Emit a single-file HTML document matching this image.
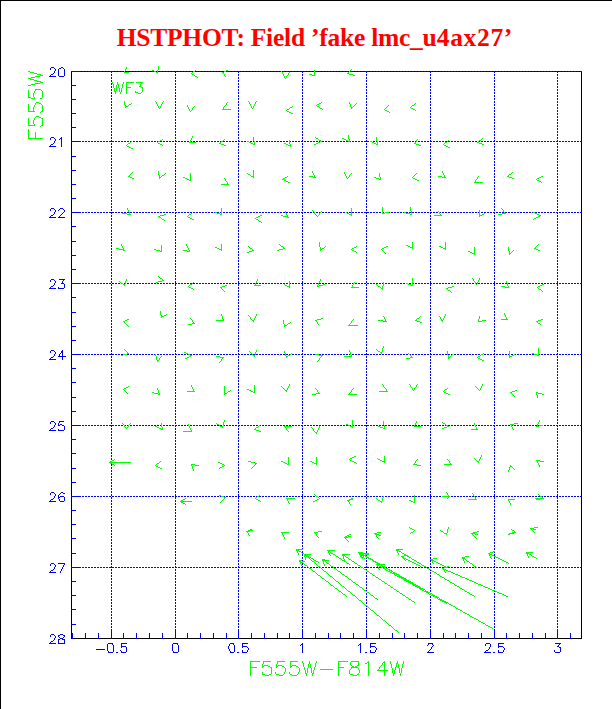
<!DOCTYPE html>
<html lang="en"><head><meta charset="utf-8"><title>HSTPHOT: Field 'fake lmc_u4ax27'</title>
<style>html,body{margin:0;padding:0;background:#fff}body{width:612px;height:709px;overflow:hidden;position:relative;font-family:"Liberation Sans",sans-serif}#fig{position:absolute;left:0;top:0;width:612px;height:709px;display:block}.ttl{font-family:"Liberation Serif",serif;font-weight:bold;font-size:25.5px;fill:#f00}.b{stroke:#00f;stroke-width:1;fill:none}.k{stroke:#000;stroke-width:1;fill:none}.g{stroke:#0f0;stroke-width:1;fill:none}.lb{stroke:#00f;stroke-width:1;fill:none;stroke-linecap:square}.lg{stroke:#0f0;stroke-width:1;fill:none;stroke-linecap:square}</style></head><body>
<svg id="fig" width="612" height="709" viewBox="0 0 612 709">
<rect x="0" y="0" width="612" height="709" fill="#fff"/>
<g shape-rendering="crispEdges"><rect x="0" y="0" width="612" height="1" fill="#000"/><rect x="0" y="0" width="1" height="709" fill="#000"/></g>
<text class="ttl" x="116.7" y="45.5" letter-spacing="-0.24">HSTPHOT: Field ’fake lmc_u<tspan x="436.8" letter-spacing="0.65">4ax27’</tspan></text>
<g shape-rendering="crispEdges">
<path class="k" d="M71.5 71.5H581.5V638.5H71.5Z"/>
<path class="b" stroke-dasharray="2 1" d="M73 71.5H582"/>
<path class="b" stroke-dasharray="2 1" d="M73 141.5H582"/>
<path class="b" stroke-dasharray="2 1" d="M73 212.5H582"/>
<path class="b" stroke-dasharray="2 1" d="M73 283.5H582"/>
<path class="b" stroke-dasharray="2 1" d="M73 354.5H582"/>
<path class="b" stroke-dasharray="2 1" d="M73 425.5H582"/>
<path class="b" stroke-dasharray="2 1" d="M73 496.5H582"/>
<path class="b" stroke-dasharray="2 1" d="M73 567.5H582"/>
<path class="b" stroke-dasharray="2 1" d="M111.5 71V638"/>
<path class="b" stroke-dasharray="2 1" d="M175.5 71V638"/>
<path class="b" stroke-dasharray="2 1" d="M238.5 71V638"/>
<path class="b" stroke-dasharray="2 1" d="M302.5 71V638"/>
<path class="b" stroke-dasharray="2 1" d="M366.5 71V638"/>
<path class="b" stroke-dasharray="2 1" d="M430.5 71V638"/>
<path class="b" stroke-dasharray="2 1" d="M494.5 71V638"/>
<path class="b" stroke-dasharray="2 1" d="M557.5 71V638"/>
<path class="b" d="M71 71.5h10M71 85.5h5M71 99.5h5M71 113.5h5M71 127.5h5M71 141.5h10M71 156.5h5M71 170.5h5M71 184.5h5M71 198.5h5M71 212.5h10M71 226.5h5M71 241.5h5M71 255.5h5M71 269.5h5M71 283.5h10M71 297.5h5M71 312.5h5M71 326.5h5M71 340.5h5M71 354.5h10M71 368.5h5M71 382.5h5M71 397.5h5M71 411.5h5M71 425.5h10M71 439.5h5M71 453.5h5M71 468.5h5M71 482.5h5M71 496.5h10M71 510.5h5M71 524.5h5M71 538.5h5M71 553.5h5M71 567.5h10M71 581.5h5M71 595.5h5M71 609.5h5M71 624.5h5M72.5 639v-6M85.5 639v-6M98.5 639v-6M111.5 639v-10M123.5 639v-6M136.5 639v-6M149.5 639v-6M162.5 639v-6M175.5 639v-10M187.5 639v-6M200.5 639v-6M213.5 639v-6M226.5 639v-6M238.5 639v-10M251.5 639v-6M264.5 639v-6M277.5 639v-6M289.5 639v-6M302.5 639v-10M315.5 639v-6M328.5 639v-6M340.5 639v-6M353.5 639v-6M366.5 639v-10M379.5 639v-6M392.5 639v-6M404.5 639v-6M417.5 639v-6M430.5 639v-10M443.5 639v-6M455.5 639v-6M468.5 639v-6M481.5 639v-6M494.5 639v-10M506.5 639v-6M519.5 639v-6M532.5 639v-6M545.5 639v-6M557.5 639v-10M570.5 639v-6"/>
</g>
<g shape-rendering="crispEdges">
<path class="b" aria-label="axis tick labels 20 21 22 23 24 25 26 27 28 / -0.5 0 0.5 1 1.5 2 2.5 3" d="M51 67.5h3M61 67.5h2M50 68.5h1M54 68.5h1M59 68.5h2M63 68.5h1M50 69.5h1M55 69.5h1M58 69.5h1M64 69.5h1M55 70.5h1M58 70.5h1M64 70.5h1M54 71.5h1M58 71.5h1M64 71.5h1M54 72.5h1M58 72.5h1M64 72.5h1M53 73.5h1M58 73.5h1M64 73.5h1M51 74.5h2M58 74.5h1M64 74.5h1M50 75.5h1M58 75.5h1M64 75.5h1M49 76.5h7M59 76.5h5M51 137.5h3M61 137.5h1M50 138.5h1M54 138.5h1M60 138.5h2M50 139.5h1M55 139.5h1M59 139.5h1M61 139.5h1M55 140.5h1M61 140.5h1M54 141.5h1M61 141.5h1M54 142.5h1M61 142.5h1M53 143.5h1M61 143.5h1M51 144.5h2M61 144.5h1M50 145.5h1M61 145.5h1M49 146.5h7M61 146.5h1M51 208.5h3M60 208.5h3M50 209.5h1M54 209.5h1M59 209.5h1M63 209.5h1M50 210.5h1M55 210.5h1M58 210.5h1M64 210.5h1M55 211.5h1M64 211.5h1M54 212.5h1M63 212.5h1M54 213.5h1M62 213.5h1M53 214.5h1M61 214.5h1M51 215.5h2M60 215.5h1M50 216.5h1M59 216.5h1M49 217.5h7M58 217.5h7M51 279.5h3M59 279.5h6M50 280.5h1M54 280.5h1M63 280.5h1M50 281.5h1M55 281.5h1M62 281.5h1M55 282.5h1M62 282.5h1M54 283.5h1M61 283.5h3M54 284.5h1M64 284.5h1M53 285.5h1M64 285.5h1M51 286.5h2M64 286.5h1M50 287.5h1M58 287.5h1M64 287.5h1M49 288.5h7M58 288.5h6M51 350.5h3M62 350.5h1M50 351.5h1M54 351.5h1M61 351.5h2M50 352.5h1M55 352.5h1M61 352.5h2M55 353.5h1M60 353.5h1M62 353.5h1M54 354.5h1M59 354.5h1M62 354.5h1M54 355.5h1M59 355.5h1M62 355.5h1M53 356.5h1M58 356.5h8M51 357.5h2M62 357.5h1M50 358.5h1M62 358.5h1M49 359.5h7M62 359.5h1M51 421.5h3M59 421.5h5M50 422.5h1M54 422.5h1M59 422.5h1M50 423.5h1M55 423.5h1M58 423.5h1M55 424.5h1M58 424.5h1M60 424.5h2M54 425.5h1M58 425.5h2M62 425.5h2M54 426.5h1M64 426.5h1M53 427.5h1M64 427.5h1M51 428.5h2M64 428.5h1M50 429.5h1M58 429.5h1M64 429.5h1M49 430.5h7M58 430.5h6M51 492.5h3M61 492.5h2M50 493.5h1M54 493.5h1M60 493.5h1M63 493.5h2M50 494.5h1M55 494.5h1M59 494.5h1M55 495.5h1M58 495.5h1M54 496.5h1M58 496.5h1M60 496.5h4M54 497.5h1M58 497.5h2M64 497.5h1M53 498.5h1M58 498.5h1M64 498.5h1M51 499.5h2M59 499.5h1M64 499.5h1M50 500.5h1M59 500.5h1M64 500.5h1M49 501.5h7M60 501.5h4M51 563.5h3M58 563.5h7M50 564.5h1M54 564.5h1M64 564.5h1M50 565.5h1M55 565.5h1M63 565.5h1M55 566.5h1M63 566.5h1M54 567.5h1M62 567.5h1M54 568.5h1M62 568.5h1M53 569.5h1M61 569.5h1M51 570.5h2M61 570.5h1M50 571.5h1M60 571.5h1M49 572.5h7M60 572.5h1M51 634.5h3M60 634.5h3M50 635.5h1M54 635.5h1M58 635.5h2M63 635.5h2M50 636.5h1M55 636.5h1M58 636.5h1M64 636.5h1M55 637.5h1M59 637.5h1M63 637.5h1M54 638.5h1M60 638.5h3M54 639.5h1M58 639.5h2M62 639.5h3M53 640.5h1M58 640.5h1M64 640.5h1M51 641.5h2M58 641.5h1M64 641.5h1M50 642.5h1M58 642.5h1M64 642.5h1M49 643.5h7M58 643.5h7M108 643.5h5M121 643.5h6M173 643.5h5M230 643.5h4M242 643.5h6M302 643.5h1M360 643.5h1M370 643.5h6M428 643.5h5M486 643.5h4M498 643.5h6M555 643.5h6M107 644.5h1M112 644.5h1M121 644.5h1M172 644.5h1M177 644.5h1M229 644.5h1M233 644.5h1M242 644.5h1M301 644.5h2M359 644.5h2M370 644.5h1M428 644.5h1M432 644.5h1M485 644.5h1M490 644.5h1M498 644.5h1M559 644.5h1M107 645.5h1M113 645.5h1M121 645.5h1M172 645.5h1M178 645.5h1M229 645.5h1M234 645.5h1M242 645.5h1M300 645.5h1M302 645.5h1M358 645.5h1M360 645.5h1M370 645.5h1M427 645.5h1M433 645.5h1M485 645.5h1M490 645.5h1M498 645.5h1M558 645.5h1M107 646.5h1M113 646.5h1M121 646.5h5M172 646.5h1M178 646.5h1M228 646.5h1M234 646.5h1M242 646.5h5M302 646.5h1M360 646.5h1M370 646.5h5M432 646.5h1M490 646.5h1M498 646.5h5M557 646.5h2M107 647.5h1M113 647.5h1M121 647.5h1M126 647.5h1M172 647.5h1M178 647.5h1M228 647.5h1M234 647.5h1M242 647.5h1M247 647.5h1M302 647.5h1M360 647.5h1M370 647.5h1M375 647.5h1M431 647.5h1M489 647.5h1M498 647.5h1M503 647.5h1M559 647.5h2M107 648.5h1M113 648.5h1M126 648.5h1M172 648.5h1M178 648.5h1M228 648.5h1M234 648.5h1M248 648.5h1M302 648.5h1M360 648.5h1M376 648.5h1M431 648.5h1M489 648.5h1M504 648.5h1M560 648.5h1M96 649.5h9M107 649.5h1M113 649.5h1M126 649.5h1M172 649.5h1M178 649.5h1M229 649.5h1M234 649.5h1M248 649.5h1M302 649.5h1M360 649.5h1M376 649.5h1M430 649.5h1M488 649.5h1M504 649.5h1M560 649.5h1M107 650.5h1M113 650.5h1M120 650.5h1M126 650.5h1M172 650.5h1M178 650.5h1M229 650.5h1M234 650.5h1M242 650.5h1M247 650.5h1M302 650.5h1M360 650.5h1M370 650.5h1M375 650.5h1M429 650.5h1M486 650.5h2M498 650.5h1M503 650.5h1M554 650.5h1M560 650.5h1M108 651.5h1M113 651.5h1M121 651.5h1M126 651.5h1M173 651.5h1M178 651.5h1M230 651.5h1M234 651.5h1M242 651.5h1M247 651.5h1M302 651.5h1M360 651.5h1M370 651.5h1M375 651.5h1M428 651.5h1M485 651.5h1M498 651.5h1M503 651.5h1M554 651.5h1M560 651.5h1M108 652.5h5M116 652.5h2M121 652.5h5M173 652.5h5M230 652.5h4M237 652.5h2M242 652.5h5M302 652.5h1M360 652.5h1M365 652.5h2M370 652.5h5M427 652.5h7M484 652.5h7M493 652.5h2M498 652.5h5M555 652.5h5"/>
<path class="g" aria-label="F555W-F814W" d="M250 661.5h10M263 661.5h8M277 661.5h8M290 661.5h8M302 661.5h1M309 661.5h1M316 661.5h1M338 661.5h10M351 661.5h8M368 661.5h1M384 661.5h1M390 661.5h1M397 661.5h1M403 661.5h1M250 662.5h1M263 662.5h1M277 662.5h1M290 662.5h1M302 662.5h1M309 662.5h1M316 662.5h1M338 662.5h1M350 662.5h1M358 662.5h1M367 662.5h2M383 662.5h2M390 662.5h1M397 662.5h1M403 662.5h1M250 663.5h1M263 663.5h1M277 663.5h1M290 663.5h1M303 663.5h1M309 663.5h1M315 663.5h1M338 663.5h1M350 663.5h1M358 663.5h1M365 663.5h2M368 663.5h1M382 663.5h1M384 663.5h1M390 663.5h1M396 663.5h2M403 663.5h1M250 664.5h1M262 664.5h1M276 664.5h1M290 664.5h1M303 664.5h1M308 664.5h1M310 664.5h1M315 664.5h1M338 664.5h1M350 664.5h1M358 664.5h1M368 664.5h1M382 664.5h1M384 664.5h1M391 664.5h1M396 664.5h1M398 664.5h1M402 664.5h1M250 665.5h1M262 665.5h1M264 665.5h4M276 665.5h1M278 665.5h4M290 665.5h1M292 665.5h4M303 665.5h1M308 665.5h1M310 665.5h1M315 665.5h1M338 665.5h1M351 665.5h1M357 665.5h2M368 665.5h1M381 665.5h1M384 665.5h1M391 665.5h1M396 665.5h1M398 665.5h1M402 665.5h1M250 666.5h1M262 666.5h2M268 666.5h2M276 666.5h2M282 666.5h2M290 666.5h2M296 666.5h2M303 666.5h1M308 666.5h1M310 666.5h1M315 666.5h1M338 666.5h1M352 666.5h2M355 666.5h2M368 666.5h1M380 666.5h1M384 666.5h1M391 666.5h1M396 666.5h1M398 666.5h1M402 666.5h1M250 667.5h7M262 667.5h1M270 667.5h2M276 667.5h1M284 667.5h1M290 667.5h1M298 667.5h1M304 667.5h1M308 667.5h1M310 667.5h1M314 667.5h1M338 667.5h6M351 667.5h7M368 667.5h1M379 667.5h1M384 667.5h1M391 667.5h1M395 667.5h1M398 667.5h1M402 667.5h1M250 668.5h1M271 668.5h1M285 668.5h1M299 668.5h1M304 668.5h1M307 668.5h1M311 668.5h1M314 668.5h1M338 668.5h1M351 668.5h1M358 668.5h1M368 668.5h1M379 668.5h1M384 668.5h1M392 668.5h1M395 668.5h1M399 668.5h1M401 668.5h1M250 669.5h1M271 669.5h1M285 669.5h1M299 669.5h1M304 669.5h1M307 669.5h1M311 669.5h1M314 669.5h1M320 669.5h13M338 669.5h1M350 669.5h1M358 669.5h1M368 669.5h1M378 669.5h1M384 669.5h1M392 669.5h1M395 669.5h1M399 669.5h1M401 669.5h1M250 670.5h1M271 670.5h1M285 670.5h1M299 670.5h1M305 670.5h1M307 670.5h1M311 670.5h1M313 670.5h1M338 670.5h1M349 670.5h1M359 670.5h1M368 670.5h1M377 670.5h11M392 670.5h1M394 670.5h1M399 670.5h1M401 670.5h1M250 671.5h1M271 671.5h1M285 671.5h1M299 671.5h1M305 671.5h1M307 671.5h1M311 671.5h1M313 671.5h1M338 671.5h1M349 671.5h1M359 671.5h1M368 671.5h1M384 671.5h1M392 671.5h1M394 671.5h1M399 671.5h1M401 671.5h1M250 672.5h1M262 672.5h1M271 672.5h1M275 672.5h1M284 672.5h1M289 672.5h1M298 672.5h1M305 672.5h1M307 672.5h1M311 672.5h1M313 672.5h1M338 672.5h1M349 672.5h1M359 672.5h1M368 672.5h1M384 672.5h1M392 672.5h1M394 672.5h1M399 672.5h1M401 672.5h1M250 673.5h1M262 673.5h1M271 673.5h1M275 673.5h1M284 673.5h1M289 673.5h1M298 673.5h1M305 673.5h2M312 673.5h2M338 673.5h1M349 673.5h1M358 673.5h1M368 673.5h1M384 673.5h1M393 673.5h2M400 673.5h1M250 674.5h1M262 674.5h3M269 674.5h2M276 674.5h3M283 674.5h1M290 674.5h2M297 674.5h1M306 674.5h1M312 674.5h1M338 674.5h1M350 674.5h3M357 674.5h2M368 674.5h1M384 674.5h1M393 674.5h1M400 674.5h1M250 675.5h1M265 675.5h4M279 675.5h4M292 675.5h5M306 675.5h1M312 675.5h1M338 675.5h1M353 675.5h4M368 675.5h1M384 675.5h1M393 675.5h1M400 675.5h1"/>
<path class="g" aria-label="F555W" d="M28 71.5h2M30 72.5h4M34 73.5h3M37 74.5h4M40 75.5h3M35 76.5h5M31 77.5h4M28 78.5h3M30 79.5h4M34 80.5h3M37 81.5h4M40 82.5h3M35 83.5h5M31 84.5h4M28 85.5h3M35 89.5h6M28 90.5h1M35 90.5h1M41 90.5h1M28 91.5h1M34 91.5h1M42 91.5h1M28 92.5h1M34 92.5h1M42 92.5h1M28 93.5h1M33 93.5h1M42 93.5h1M28 94.5h1M33 94.5h1M42 94.5h1M28 95.5h1M33 95.5h1M42 95.5h1M28 96.5h1M33 96.5h1M42 96.5h1M28 97.5h3M34 97.5h1M42 97.5h1M31 98.5h4M40 98.5h2M36 102.5h3M35 103.5h1M39 103.5h2M28 104.5h1M35 104.5h1M41 104.5h1M28 105.5h1M34 105.5h1M42 105.5h1M28 106.5h1M34 106.5h1M42 106.5h1M28 107.5h1M33 107.5h1M42 107.5h1M28 108.5h1M33 108.5h1M42 108.5h1M28 109.5h1M33 109.5h1M42 109.5h1M28 110.5h1M33 110.5h1M42 110.5h1M28 111.5h7M41 111.5h2M40 112.5h1M36 116.5h3M35 117.5h1M39 117.5h2M28 118.5h1M34 118.5h1M41 118.5h2M28 119.5h1M34 119.5h1M42 119.5h1M28 120.5h1M33 120.5h1M42 120.5h1M28 121.5h1M33 121.5h1M42 121.5h1M28 122.5h1M33 122.5h1M42 122.5h1M28 123.5h1M33 123.5h1M42 123.5h1M28 124.5h1M34 124.5h1M42 124.5h1M28 125.5h7M41 125.5h2M40 126.5h1M28 129.5h1M28 130.5h1M28 131.5h1M28 132.5h1M35 132.5h1M28 133.5h1M35 133.5h1M28 134.5h1M35 134.5h1M28 135.5h1M35 135.5h1M28 136.5h1M35 136.5h1M28 137.5h1M35 137.5h1M28 138.5h15"/>
<path class="g" aria-label="WF3" d="M112 82.5h1M117 82.5h1M123 82.5h1M126 82.5h8M136 82.5h7M112 83.5h1M117 83.5h1M123 83.5h1M126 83.5h1M141 83.5h1M113 84.5h1M117 84.5h2M122 84.5h1M126 84.5h1M140 84.5h1M113 85.5h1M116 85.5h1M118 85.5h1M122 85.5h1M126 85.5h1M140 85.5h1M113 86.5h1M116 86.5h1M118 86.5h1M122 86.5h1M126 86.5h1M139 86.5h2M113 87.5h1M116 87.5h1M118 87.5h1M122 87.5h1M126 87.5h5M141 87.5h2M114 88.5h1M116 88.5h1M119 88.5h1M121 88.5h1M126 88.5h1M142 88.5h1M114 89.5h1M116 89.5h1M119 89.5h1M121 89.5h1M126 89.5h1M142 89.5h1M114 90.5h1M116 90.5h1M119 90.5h1M121 90.5h1M126 90.5h1M142 90.5h1M114 91.5h2M119 91.5h1M121 91.5h1M126 91.5h1M135 91.5h1M142 91.5h1M115 92.5h1M120 92.5h1M126 92.5h1M135 92.5h3M141 92.5h1M115 93.5h1M120 93.5h1M126 93.5h1M138 93.5h3"/>
<path class="g" aria-label="completeness vectors" d="M158 66.5h1M126 67.5h1M158 67.5h1M126 68.5h1M158 68.5h1M125 69.5h1M158 69.5h1M351 69.5h1M125 70.5h1M152 70.5h2M157 70.5h1M195 70.5h1M226 70.5h2M314 70.5h1M350 70.5h1M124 71.5h1M154 71.5h2M157 71.5h1M193 71.5h2M224 71.5h2M281 71.5h1M314 71.5h1M349 71.5h1M124 72.5h5M156 72.5h2M192 72.5h1M222 72.5h2M282 72.5h1M289 72.5h1M314 72.5h1M348 72.5h1M191 73.5h1M223 73.5h1M282 73.5h1M288 73.5h1M314 73.5h1M347 73.5h2M192 74.5h2M224 74.5h1M283 74.5h1M288 74.5h1M309 74.5h3M314 74.5h1M349 74.5h4M194 75.5h1M224 75.5h1M283 75.5h1M287 75.5h1M312 75.5h3M353 75.5h2M195 76.5h2M225 76.5h1M284 76.5h1M286 76.5h1M197 77.5h1M284 77.5h1M286 77.5h1M285 78.5h1M124 101.5h1M155 101.5h1M163 101.5h1M248 101.5h1M256 101.5h1M124 102.5h1M156 102.5h1M162 102.5h1M227 102.5h1M249 102.5h1M255 102.5h1M321 102.5h1M349 102.5h1M124 103.5h1M131 103.5h1M156 103.5h1M162 103.5h1M226 103.5h1M249 103.5h1M255 103.5h1M319 103.5h2M349 103.5h1M356 103.5h1M415 103.5h1M124 104.5h1M129 104.5h2M157 104.5h1M161 104.5h1M226 104.5h1M250 104.5h1M254 104.5h1M317 104.5h2M350 104.5h1M355 104.5h1M414 104.5h1M125 105.5h1M128 105.5h1M157 105.5h1M161 105.5h1M187 105.5h1M225 105.5h1M250 105.5h1M254 105.5h1M316 105.5h1M350 105.5h1M354 105.5h1M388 105.5h1M412 105.5h2M125 106.5h3M158 106.5h1M160 106.5h1M187 106.5h1M194 106.5h1M224 106.5h1M251 106.5h1M253 106.5h1M292 106.5h1M317 106.5h2M350 106.5h1M353 106.5h1M387 106.5h1M411 106.5h1M125 107.5h1M158 107.5h1M160 107.5h1M188 107.5h1M193 107.5h1M223 107.5h1M251 107.5h1M253 107.5h1M290 107.5h2M319 107.5h1M351 107.5h2M386 107.5h1M410 107.5h1M159 108.5h1M188 108.5h1M192 108.5h1M223 108.5h1M252 108.5h1M289 108.5h1M320 108.5h2M351 108.5h1M385 108.5h1M411 108.5h2M189 109.5h1M192 109.5h1M222 109.5h9M287 109.5h2M322 109.5h1M384 109.5h1M413 109.5h2M189 110.5h1M191 110.5h1M286 110.5h1M385 110.5h2M415 110.5h1M190 111.5h1M287 111.5h2M387 111.5h2M289 112.5h2M389 112.5h1M291 113.5h2M348 135.5h1M192 136.5h1M348 136.5h1M192 137.5h1M253 137.5h1M315 137.5h1M348 137.5h1M376 137.5h1M191 138.5h1M253 138.5h1M316 138.5h2M342 138.5h2M348 138.5h1M376 138.5h1M482 138.5h1M162 139.5h1M191 139.5h1M224 139.5h1M253 139.5h1M318 139.5h1M344 139.5h2M349 139.5h1M376 139.5h1M417 139.5h1M481 139.5h1M160 140.5h2M190 140.5h1M223 140.5h1M253 140.5h1M289 140.5h1M319 140.5h2M346 140.5h2M349 140.5h1M376 140.5h1M416 140.5h1M448 140.5h1M479 140.5h2M131 141.5h1M158 141.5h2M190 141.5h1M221 141.5h2M247 141.5h2M254 141.5h1M289 141.5h1M320 141.5h2M348 141.5h2M370 141.5h2M377 141.5h1M416 141.5h1M447 141.5h1M478 141.5h1M130 142.5h1M157 142.5h1M189 142.5h7M220 142.5h1M249 142.5h2M254 142.5h1M289 142.5h1M318 142.5h2M372 142.5h2M377 142.5h1M415 142.5h1M445 142.5h2M477 142.5h2M128 143.5h2M158 143.5h2M219 143.5h2M251 143.5h2M254 143.5h1M284 143.5h2M289 143.5h1M316 143.5h2M374 143.5h2M377 143.5h1M414 143.5h2M444 143.5h1M479 143.5h3M127 144.5h1M160 144.5h2M221 144.5h3M253 144.5h2M286 144.5h2M290 144.5h1M314 144.5h2M376 144.5h2M416 144.5h3M443 144.5h1M482 144.5h2M126 145.5h1M162 145.5h1M224 145.5h2M288 145.5h3M419 145.5h2M444 145.5h2M127 146.5h2M290 146.5h1M446 146.5h2M129 147.5h2M448 147.5h2M131 148.5h2M253 170.5h1M158 171.5h1M253 171.5h1M312 171.5h1M442 171.5h1M132 172.5h1M158 172.5h1M253 172.5h1M312 172.5h1M344 172.5h1M442 172.5h1M512 172.5h1M131 173.5h1M158 173.5h1M165 173.5h1M190 173.5h1M247 173.5h1M253 173.5h1M313 173.5h1M344 173.5h1M351 173.5h1M379 173.5h1M416 173.5h1M443 173.5h1M511 173.5h1M130 174.5h1M158 174.5h1M164 174.5h1M190 174.5h1M248 174.5h2M253 174.5h1M313 174.5h1M345 174.5h1M350 174.5h1M379 174.5h1M415 174.5h1M443 174.5h1M509 174.5h2M129 175.5h1M159 175.5h1M162 175.5h2M190 175.5h1M250 175.5h1M253 175.5h1M314 175.5h1M345 175.5h1M349 175.5h1M379 175.5h1M414 175.5h1M444 175.5h1M508 175.5h1M128 176.5h2M159 176.5h1M161 176.5h1M190 176.5h1M251 176.5h3M287 176.5h1M309 176.5h4M314 176.5h1M346 176.5h1M349 176.5h1M379 176.5h1M413 176.5h1M438 176.5h4M444 176.5h1M478 176.5h1M507 176.5h2M541 176.5h2M130 177.5h2M159 177.5h2M183 177.5h2M190 177.5h1M253 177.5h1M285 177.5h2M313 177.5h3M346 177.5h1M348 177.5h1M374 177.5h2M380 177.5h1M412 177.5h1M442 177.5h4M477 177.5h1M509 177.5h3M539 177.5h2M132 178.5h2M159 178.5h1M185 178.5h2M190 178.5h1M224 178.5h1M283 178.5h2M347 178.5h1M376 178.5h3M380 178.5h1M413 178.5h2M477 178.5h1M512 178.5h2M537 178.5h2M187 179.5h2M190 179.5h1M225 179.5h1M282 179.5h2M379 179.5h2M415 179.5h2M476 179.5h1M536 179.5h1M189 180.5h2M225 180.5h1M284 180.5h2M417 180.5h2M475 180.5h1M537 180.5h2M226 181.5h1M286 181.5h2M475 181.5h1M539 181.5h2M227 182.5h1M288 182.5h2M474 182.5h9M541 182.5h1M227 183.5h1M221 184.5h8M382 207.5h1M410 207.5h1M127 208.5h1M221 208.5h1M351 208.5h1M382 208.5h1M410 208.5h1M501 208.5h1M127 209.5h1M221 209.5h1M351 209.5h1M382 209.5h1M410 209.5h1M502 209.5h1M128 210.5h1M221 210.5h1M312 210.5h1M351 210.5h1M382 210.5h1M410 210.5h1M479 210.5h1M503 210.5h1M128 211.5h1M221 211.5h1M285 211.5h1M313 211.5h1M321 211.5h1M351 211.5h1M382 211.5h1M411 211.5h1M438 211.5h1M479 211.5h1M503 211.5h1M129 212.5h1M215 212.5h2M221 212.5h1M285 212.5h1M314 212.5h1M320 212.5h1M346 212.5h1M351 212.5h1M382 212.5h1M385 212.5h4M404 212.5h2M411 212.5h1M439 212.5h1M479 212.5h1M504 212.5h1M533 212.5h2M122 213.5h5M129 213.5h1M191 213.5h1M217 213.5h3M221 213.5h1M286 213.5h1M314 213.5h1M319 213.5h1M347 213.5h2M351 213.5h1M382 213.5h3M406 213.5h4M411 213.5h1M439 213.5h1M479 213.5h1M484 213.5h1M502 213.5h4M535 213.5h2M127 214.5h4M164 214.5h2M189 214.5h2M220 214.5h2M286 214.5h1M315 214.5h1M319 214.5h1M349 214.5h3M410 214.5h2M440 214.5h1M479 214.5h1M482 214.5h2M498 214.5h4M537 214.5h2M160 215.5h4M188 215.5h1M260 215.5h2M281 215.5h2M287 215.5h1M316 215.5h1M318 215.5h1M351 215.5h1M434 215.5h8M479 215.5h3M539 215.5h2M158 216.5h2M187 216.5h1M258 216.5h2M283 216.5h5M317 216.5h1M479 216.5h1M538 216.5h2M159 217.5h2M188 217.5h2M256 217.5h2M287 217.5h2M536 217.5h2M161 218.5h1M190 218.5h2M255 218.5h1M534 218.5h2M162 219.5h2M192 219.5h2M256 219.5h2M533 219.5h1M164 220.5h1M258 220.5h1M259 221.5h2M261 222.5h1M319 242.5h1M412 242.5h1M445 242.5h1M319 243.5h1M412 243.5h1M445 243.5h1M121 244.5h1M186 244.5h1M221 244.5h1M279 244.5h1M319 244.5h1M412 244.5h1M445 244.5h1M538 244.5h1M121 245.5h1M161 245.5h1M186 245.5h1M221 245.5h1M280 245.5h1M319 245.5h1M406 245.5h2M412 245.5h1M445 245.5h1M537 245.5h1M122 246.5h1M161 246.5h1M187 246.5h1M221 246.5h1M248 246.5h1M281 246.5h2M319 246.5h1M325 246.5h1M356 246.5h1M386 246.5h2M408 246.5h2M412 246.5h1M439 246.5h2M445 246.5h1M536 246.5h1M122 247.5h1M161 247.5h1M187 247.5h1M215 247.5h2M221 247.5h1M249 247.5h1M283 247.5h1M320 247.5h1M324 247.5h1M354 247.5h2M384 247.5h2M410 247.5h3M441 247.5h2M445 247.5h1M474 247.5h1M508 247.5h1M535 247.5h1M116 248.5h3M123 248.5h1M161 248.5h1M188 248.5h1M217 248.5h2M221 248.5h1M250 248.5h2M283 248.5h2M320 248.5h1M322 248.5h2M352 248.5h2M382 248.5h2M412 248.5h1M443 248.5h3M474 248.5h1M508 248.5h1M534 248.5h2M119 249.5h5M154 249.5h2M161 249.5h1M188 249.5h1M219 249.5h3M252 249.5h1M279 249.5h4M320 249.5h2M351 249.5h1M381 249.5h1M445 249.5h1M474 249.5h1M508 249.5h1M536 249.5h2M123 250.5h2M156 250.5h4M161 250.5h1M183 250.5h4M189 250.5h1M221 250.5h1M252 250.5h2M277 250.5h2M320 250.5h1M352 250.5h2M382 250.5h1M474 250.5h1M508 250.5h1M513 250.5h1M538 250.5h2M160 251.5h2M187 251.5h3M249 251.5h3M354 251.5h2M383 251.5h1M468 251.5h2M474 251.5h1M509 251.5h1M512 251.5h1M247 252.5h2M356 252.5h1M384 252.5h1M470 252.5h2M474 252.5h1M509 252.5h1M511 252.5h1M385 253.5h1M472 253.5h3M509 253.5h2M474 254.5h1M509 254.5h1M158 276.5h1M159 277.5h1M160 278.5h2M412 278.5h1M472 278.5h1M479 278.5h1M126 279.5h1M162 279.5h1M257 279.5h1M320 279.5h1M412 279.5h1M473 279.5h1M479 279.5h1M126 280.5h1M162 280.5h2M257 280.5h1M320 280.5h1M412 280.5h1M473 280.5h1M478 280.5h1M119 281.5h1M125 281.5h1M158 281.5h4M256 281.5h1M289 281.5h1M319 281.5h1M412 281.5h1M474 281.5h1M478 281.5h1M506 281.5h1M120 282.5h1M125 282.5h1M156 282.5h2M193 282.5h1M256 282.5h1M289 282.5h1M319 282.5h1M354 282.5h1M383 282.5h1M412 282.5h1M475 282.5h1M477 282.5h1M506 282.5h1M121 283.5h2M125 283.5h1M192 283.5h1M255 283.5h1M289 283.5h1M318 283.5h1M353 283.5h1M383 283.5h1M406 283.5h2M412 283.5h1M475 283.5h1M477 283.5h1M507 283.5h1M123 284.5h2M190 284.5h2M255 284.5h1M284 284.5h1M289 284.5h1M318 284.5h1M323 284.5h2M353 284.5h1M376 284.5h1M383 284.5h1M408 284.5h3M412 284.5h1M476 284.5h1M507 284.5h1M542 284.5h2M124 285.5h1M189 285.5h1M225 285.5h2M254 285.5h7M285 285.5h2M289 285.5h1M317 285.5h1M319 285.5h4M352 285.5h1M377 285.5h1M383 285.5h1M411 285.5h2M507 285.5h1M540 285.5h2M188 286.5h1M222 286.5h3M287 286.5h3M317 286.5h2M352 286.5h1M378 286.5h2M382 286.5h1M452 286.5h2M501 286.5h4M508 286.5h1M538 286.5h2M189 287.5h2M220 287.5h2M289 287.5h1M351 287.5h8M380 287.5h1M382 287.5h1M448 287.5h4M505 287.5h4M537 287.5h1M191 288.5h2M221 288.5h1M381 288.5h2M446 288.5h2M538 288.5h1M193 289.5h1M222 289.5h1M382 289.5h1M447 289.5h1M539 289.5h2M223 290.5h1M448 290.5h2M541 290.5h1M224 291.5h1M450 291.5h1M542 291.5h1M451 292.5h1M160 311.5h1M160 312.5h1M160 313.5h1M504 313.5h1M160 314.5h1M166 314.5h1M221 314.5h1M256 314.5h1M445 314.5h1M504 314.5h1M161 315.5h1M164 315.5h2M221 315.5h1M248 315.5h1M256 315.5h1M445 315.5h1M505 315.5h1M161 316.5h3M222 316.5h1M249 316.5h1M255 316.5h1M383 316.5h1M420 316.5h1M439 316.5h1M444 316.5h1M479 316.5h1M505 316.5h1M161 317.5h1M222 317.5h1M250 317.5h1M255 317.5h1M384 317.5h1M419 317.5h1M440 317.5h1M444 317.5h1M479 317.5h1M506 317.5h1M190 318.5h1M222 318.5h1M250 318.5h1M254 318.5h1M321 318.5h2M384 318.5h1M417 318.5h2M440 318.5h1M443 318.5h1M479 318.5h1M506 318.5h1M127 319.5h2M191 319.5h1M223 319.5h1M251 319.5h1M254 319.5h1M317 319.5h4M353 319.5h1M385 319.5h1M416 319.5h1M441 319.5h1M443 319.5h1M478 319.5h1M501 319.5h7M541 319.5h2M125 320.5h2M192 320.5h1M216 320.5h8M252 320.5h2M283 320.5h1M315 320.5h2M352 320.5h1M378 320.5h5M385 320.5h1M415 320.5h2M441 320.5h2M478 320.5h1M482 320.5h4M538 320.5h3M123 321.5h2M192 321.5h1M253 321.5h1M283 321.5h1M316 321.5h1M351 321.5h1M383 321.5h4M417 321.5h3M442 321.5h1M478 321.5h4M536 321.5h2M124 322.5h1M193 322.5h1M283 322.5h1M290 322.5h1M317 322.5h1M351 322.5h1M420 322.5h2M537 322.5h1M125 323.5h1M192 323.5h3M283 323.5h1M288 323.5h2M317 323.5h1M350 323.5h1M538 323.5h2M126 324.5h1M188 324.5h4M284 324.5h1M287 324.5h1M318 324.5h1M349 324.5h1M540 324.5h1M127 325.5h1M284 325.5h3M348 325.5h10M128 326.5h1M284 326.5h1M383 346.5h1M383 347.5h1M382 348.5h1M538 348.5h1M124 349.5h1M376 349.5h1M382 349.5h1M538 349.5h1M125 350.5h1M256 350.5h1M349 350.5h1M377 350.5h1M382 350.5h1M538 350.5h1M126 351.5h1M249 351.5h1M256 351.5h1M284 351.5h1M349 351.5h1M378 351.5h2M382 351.5h1M447 351.5h1M509 351.5h1M538 351.5h1M127 352.5h1M184 352.5h2M250 352.5h1M255 352.5h1M284 352.5h1M350 352.5h1M380 352.5h2M447 352.5h1M509 352.5h1M538 352.5h1M127 353.5h2M186 353.5h2M251 353.5h1M255 353.5h1M285 353.5h1M291 353.5h1M350 353.5h1M381 353.5h1M408 353.5h1M447 353.5h1M483 353.5h1M509 353.5h1M532 353.5h2M538 353.5h1M123 354.5h4M155 354.5h1M188 354.5h2M252 354.5h1M255 354.5h1M285 354.5h1M290 354.5h1M315 354.5h4M350 354.5h1M409 354.5h1M447 354.5h1M452 354.5h1M481 354.5h2M509 354.5h1M514 354.5h1M534 354.5h3M538 354.5h1M121 355.5h2M155 355.5h1M190 355.5h2M253 355.5h2M285 355.5h1M288 355.5h2M319 355.5h4M351 355.5h1M410 355.5h1M448 355.5h1M451 355.5h1M480 355.5h1M509 355.5h1M512 355.5h2M537 355.5h2M156 356.5h1M161 356.5h1M189 356.5h2M216 356.5h4M254 356.5h1M286 356.5h2M321 356.5h1M344 356.5h8M411 356.5h1M448 356.5h1M450 356.5h1M478 356.5h2M509 356.5h3M156 357.5h1M160 357.5h1M187 357.5h2M220 357.5h4M286 357.5h1M320 357.5h1M410 357.5h3M448 357.5h2M477 357.5h1M509 357.5h1M156 358.5h1M159 358.5h1M185 358.5h2M222 358.5h1M319 358.5h1M406 358.5h4M448 358.5h1M478 358.5h2M156 359.5h1M159 359.5h1M221 359.5h1M319 359.5h1M480 359.5h2M157 360.5h2M221 360.5h1M318 360.5h1M482 360.5h2M157 361.5h1M220 361.5h1M317 361.5h1M219 362.5h1M289 384.5h1M382 384.5h1M409 384.5h1M417 384.5h1M482 384.5h1M191 385.5h1M254 385.5h1M289 385.5h1M383 385.5h1M410 385.5h1M416 385.5h1M482 385.5h1M128 386.5h1M191 386.5h1M224 386.5h1M254 386.5h1M281 386.5h1M288 386.5h1M383 386.5h1M410 386.5h1M416 386.5h1M475 386.5h1M481 386.5h1M126 387.5h2M192 387.5h1M224 387.5h1M254 387.5h1M282 387.5h1M288 387.5h1M384 387.5h1M411 387.5h1M415 387.5h1M476 387.5h1M481 387.5h1M124 388.5h2M157 388.5h1M192 388.5h1M224 388.5h1M254 388.5h1M283 388.5h1M287 388.5h1M315 388.5h1M353 388.5h1M385 388.5h1M412 388.5h1M414 388.5h1M447 388.5h1M477 388.5h1M480 388.5h1M123 389.5h1M157 389.5h1M193 389.5h1M224 389.5h1M247 389.5h2M254 389.5h1M284 389.5h1M287 389.5h1M316 389.5h1M352 389.5h1M386 389.5h1M412 389.5h1M414 389.5h1M445 389.5h2M478 389.5h1M480 389.5h1M124 390.5h1M158 390.5h1M193 390.5h1M224 390.5h1M230 390.5h1M249 390.5h2M254 390.5h1M285 390.5h2M317 390.5h1M351 390.5h1M386 390.5h1M413 390.5h1M444 390.5h1M479 390.5h1M515 390.5h2M125 391.5h1M158 391.5h1M187 391.5h8M224 391.5h1M228 391.5h2M251 391.5h2M254 391.5h1M286 391.5h1M317 391.5h1M351 391.5h1M379 391.5h9M443 391.5h1M512 391.5h3M126 392.5h1M152 392.5h2M158 392.5h1M224 392.5h1M227 392.5h1M253 392.5h2M318 392.5h1M350 392.5h1M444 392.5h2M510 392.5h2M536 392.5h2M127 393.5h1M154 393.5h4M159 393.5h1M224 393.5h3M316 393.5h4M349 393.5h1M446 393.5h2M511 393.5h1M536 393.5h1M538 393.5h4M158 394.5h2M224 394.5h1M312 394.5h4M348 394.5h9M448 394.5h2M512 394.5h1M536 394.5h1M542 394.5h2M513 395.5h1M537 395.5h1M514 396.5h1M537 396.5h1M537 397.5h1M224 420.5h1M352 420.5h1M539 420.5h1M224 421.5h1M352 421.5h1M383 421.5h1M416 421.5h1M539 421.5h1M223 422.5h1M352 422.5h1M383 422.5h1M416 422.5h1M442 422.5h1M538 422.5h1M122 423.5h1M130 423.5h1M161 423.5h1M216 423.5h1M223 423.5h1M352 423.5h1M383 423.5h1M415 423.5h1M443 423.5h2M474 423.5h1M514 423.5h4M538 423.5h1M123 424.5h1M129 424.5h1M161 424.5h1M188 424.5h1M217 424.5h2M223 424.5h1M346 424.5h2M352 424.5h1M383 424.5h1M415 424.5h1M445 424.5h1M474 424.5h1M510 424.5h4M537 424.5h1M124 425.5h1M128 425.5h1M161 425.5h1M188 425.5h1M219 425.5h1M223 425.5h1M259 425.5h1M348 425.5h2M352 425.5h1M384 425.5h1M414 425.5h1M446 425.5h2M475 425.5h1M511 425.5h1M537 425.5h1M539 425.5h4M124 426.5h1M128 426.5h1M155 426.5h2M161 426.5h1M189 426.5h1M220 426.5h3M258 426.5h1M284 426.5h8M319 426.5h1M350 426.5h3M378 426.5h2M384 426.5h1M414 426.5h7M447 426.5h2M475 426.5h1M511 426.5h1M536 426.5h3M125 427.5h1M127 427.5h1M157 427.5h2M162 427.5h1M189 427.5h1M222 427.5h1M256 427.5h2M285 427.5h1M311 427.5h1M319 427.5h1M352 427.5h1M380 427.5h3M384 427.5h1M444 427.5h3M476 427.5h1M512 427.5h1M126 428.5h1M159 428.5h2M162 428.5h1M190 428.5h1M255 428.5h1M286 428.5h1M312 428.5h1M318 428.5h1M383 428.5h2M442 428.5h2M476 428.5h1M512 428.5h1M161 429.5h2M190 429.5h1M254 429.5h2M286 429.5h1M313 429.5h1M318 429.5h1M471 429.5h7M513 429.5h1M191 430.5h1M256 430.5h3M287 430.5h1M313 430.5h1M317 430.5h1M183 431.5h9M259 431.5h2M288 431.5h1M314 431.5h1M317 431.5h1M315 432.5h2M316 433.5h1M481 455.5h1M354 456.5h2M384 456.5h1M481 456.5h1M288 457.5h1M316 457.5h1M352 457.5h2M384 457.5h1M480 457.5h1M288 458.5h1M316 458.5h1M350 458.5h2M377 458.5h1M384 458.5h1M474 458.5h1M480 458.5h1M114 459.5h1M288 459.5h1M316 459.5h1M349 459.5h1M378 459.5h2M384 459.5h1M417 459.5h1M447 459.5h1M475 459.5h1M479 459.5h1M112 460.5h2M288 460.5h1M316 460.5h1M350 460.5h2M380 460.5h2M384 460.5h1M416 460.5h1M448 460.5h1M476 460.5h1M479 460.5h1M536 460.5h4M110 461.5h2M160 461.5h1M248 461.5h3M281 461.5h2M288 461.5h1M310 461.5h2M316 461.5h1M352 461.5h2M382 461.5h3M415 461.5h1M449 461.5h1M477 461.5h2M537 461.5h1M540 461.5h4M109 462.5h22M159 462.5h1M218 462.5h2M251 462.5h4M283 462.5h2M288 462.5h1M312 462.5h2M316 462.5h1M354 462.5h2M384 462.5h1M415 462.5h1M449 462.5h1M478 462.5h1M537 462.5h1M110 463.5h2M157 463.5h2M220 463.5h2M255 463.5h2M285 463.5h2M288 463.5h1M314 463.5h3M356 463.5h1M414 463.5h1M450 463.5h1M538 463.5h1M112 464.5h2M156 464.5h1M191 464.5h4M222 464.5h2M255 464.5h1M287 464.5h2M316 464.5h1M413 464.5h4M444 464.5h8M538 464.5h1M114 465.5h1M155 465.5h1M191 465.5h1M195 465.5h4M224 465.5h1M254 465.5h1M417 465.5h4M510 465.5h1M539 465.5h1M156 466.5h2M192 466.5h1M222 466.5h2M253 466.5h1M510 466.5h2M539 466.5h1M158 467.5h2M192 467.5h1M220 467.5h2M252 467.5h1M509 467.5h1M512 467.5h1M160 468.5h2M192 468.5h1M219 468.5h1M251 468.5h1M509 468.5h1M513 468.5h1M193 469.5h1M509 469.5h1M514 469.5h1M193 470.5h1M508 470.5h1M508 471.5h1M446 492.5h1M447 493.5h1M472 493.5h1M314 494.5h1M447 494.5h1M473 494.5h1M538 494.5h1M219 495.5h2M259 495.5h1M315 495.5h1M414 495.5h1M448 495.5h1M473 495.5h1M539 495.5h1M221 496.5h3M257 496.5h2M316 496.5h2M383 496.5h1M414 496.5h1M442 496.5h8M474 496.5h1M540 496.5h2M224 497.5h2M256 497.5h1M318 497.5h1M383 497.5h1M414 497.5h1M448 497.5h1M475 497.5h1M542 497.5h1M185 498.5h1M224 498.5h1M255 498.5h1M286 498.5h9M319 498.5h1M351 498.5h2M376 498.5h1M382 498.5h1M414 498.5h1M447 498.5h1M475 498.5h1M535 498.5h9M183 499.5h2M223 499.5h1M256 499.5h2M287 499.5h1M317 499.5h2M349 499.5h4M377 499.5h1M382 499.5h1M414 499.5h1M468 499.5h9M508 499.5h7M536 499.5h4M181 500.5h2M222 500.5h1M258 500.5h2M287 500.5h1M315 500.5h2M347 500.5h3M378 500.5h2M382 500.5h1M409 500.5h2M414 500.5h1M508 500.5h1M180 501.5h12M221 501.5h1M260 501.5h1M288 501.5h1M313 501.5h2M348 501.5h1M380 501.5h2M411 501.5h2M414 501.5h1M509 501.5h1M181 502.5h2M220 502.5h1M288 502.5h1M349 502.5h1M381 502.5h1M413 502.5h2M509 502.5h1M183 503.5h2M289 503.5h1M349 503.5h1M510 503.5h1M185 504.5h1M350 504.5h1M510 504.5h1M409 527.5h1M448 527.5h1M534 527.5h4M410 528.5h2M448 528.5h1M530 528.5h4M250 529.5h2M412 529.5h2M447 529.5h1M511 529.5h1M531 529.5h1M533 529.5h3M248 530.5h5M414 530.5h1M440 530.5h1M447 530.5h1M512 530.5h2M532 530.5h1M246 531.5h4M318 531.5h4M413 531.5h1M441 531.5h2M447 531.5h1M477 531.5h2M514 531.5h1M533 531.5h1M247 532.5h1M281 532.5h8M314 532.5h4M377 532.5h4M411 532.5h2M443 532.5h1M447 532.5h1M473 532.5h4M512 532.5h4M534 532.5h1M248 533.5h1M282 533.5h1M315 533.5h1M374 533.5h3M410 533.5h1M444 533.5h3M471 533.5h4M509 533.5h5M248 534.5h1M282 534.5h1M316 534.5h1M349 534.5h2M375 534.5h4M446 534.5h1M472 534.5h1M475 534.5h3M508 534.5h2M249 535.5h1M283 535.5h1M316 535.5h1M347 535.5h2M376 535.5h1M379 535.5h2M473 535.5h1M283 536.5h1M317 536.5h1M345 536.5h2M348 536.5h3M376 536.5h1M474 536.5h1M284 537.5h1M318 537.5h1M344 537.5h4M377 537.5h1M475 537.5h1M284 538.5h1M345 538.5h1M378 538.5h1M476 538.5h1M346 539.5h1M347 540.5h1M348 541.5h1M296 549.5h7M396 549.5h7M296 550.5h3M327 550.5h8M396 550.5h3M297 551.5h1M299 551.5h2M328 551.5h2M397 551.5h1M399 551.5h2M493 551.5h2M297 552.5h1M301 552.5h1M328 552.5h1M330 552.5h1M358 552.5h5M397 552.5h1M401 552.5h1M490 552.5h3M526 552.5h7M298 553.5h1M302 553.5h2M329 553.5h1M331 553.5h2M359 553.5h10M398 553.5h1M402 553.5h2M488 553.5h2M526 553.5h3M298 554.5h1M304 554.5h7M329 554.5h1M333 554.5h2M342 554.5h8M359 554.5h5M365 554.5h4M398 554.5h1M404 554.5h2M489 554.5h3M527 554.5h1M529 554.5h2M304 555.5h4M330 555.5h1M335 555.5h1M342 555.5h3M360 555.5h6M404 555.5h4M489 555.5h1M492 555.5h2M527 555.5h1M531 555.5h1M304 556.5h1M306 556.5h3M336 556.5h2M343 556.5h1M345 556.5h1M360 556.5h2M363 556.5h1M365 556.5h2M401 556.5h3M407 556.5h2M465 556.5h4M490 556.5h1M494 556.5h2M528 556.5h1M532 556.5h2M305 557.5h1M308 557.5h3M338 557.5h1M343 557.5h1M346 557.5h2M361 557.5h3M366 557.5h3M402 557.5h2M409 557.5h2M462 557.5h3M490 557.5h1M496 557.5h2M528 557.5h1M534 557.5h2M305 558.5h1M309 558.5h1M311 558.5h2M339 558.5h2M343 558.5h1M348 558.5h1M362 558.5h1M364 558.5h1M368 558.5h3M403 558.5h3M411 558.5h1M433 558.5h4M462 558.5h3M491 558.5h1M498 558.5h2M536 558.5h1M305 559.5h1M310 559.5h1M313 559.5h1M322 559.5h3M341 559.5h1M344 559.5h1M349 559.5h2M370 559.5h3M404 559.5h1M406 559.5h2M412 559.5h2M430 559.5h3M463 559.5h1M465 559.5h1M500 559.5h2M299 560.5h3M311 560.5h1M314 560.5h2M322 560.5h7M342 560.5h3M351 560.5h1M372 560.5h2M405 560.5h1M408 560.5h2M414 560.5h2M431 560.5h3M463 560.5h1M466 560.5h1M502 560.5h2M299 561.5h2M302 561.5h3M312 561.5h2M316 561.5h2M323 561.5h1M325 561.5h1M344 561.5h2M352 561.5h2M373 561.5h3M410 561.5h2M416 561.5h1M432 561.5h1M434 561.5h2M464 561.5h1M467 561.5h2M504 561.5h2M300 562.5h3M314 562.5h1M318 562.5h1M323 562.5h1M326 562.5h1M346 562.5h1M354 562.5h1M375 562.5h3M412 562.5h2M417 562.5h2M432 562.5h1M436 562.5h2M464 562.5h1M469 562.5h1M506 562.5h2M300 563.5h1M303 563.5h1M315 563.5h1M323 563.5h1M327 563.5h2M347 563.5h2M355 563.5h2M377 563.5h3M414 563.5h2M419 563.5h2M433 563.5h1M438 563.5h2M470 563.5h2M508 563.5h1M301 564.5h1M304 564.5h1M316 564.5h1M324 564.5h1M329 564.5h1M349 564.5h1M357 564.5h1M376 564.5h9M416 564.5h2M421 564.5h1M440 564.5h2M472 564.5h1M301 565.5h1M305 565.5h2M317 565.5h1M324 565.5h1M330 565.5h1M358 565.5h2M377 565.5h2M381 565.5h2M418 565.5h2M422 565.5h2M442 565.5h2M473 565.5h1M307 566.5h1M318 566.5h2M331 566.5h2M360 566.5h1M377 566.5h1M379 566.5h2M382 566.5h3M420 566.5h1M424 566.5h2M444 566.5h2M447 566.5h2M474 566.5h2M308 567.5h1M320 567.5h1M333 567.5h1M361 567.5h2M378 567.5h1M381 567.5h2M384 567.5h2M426 567.5h1M444 567.5h4M476 567.5h1M309 568.5h2M321 568.5h1M334 568.5h2M363 568.5h1M378 568.5h1M383 568.5h2M386 568.5h2M427 568.5h2M442 568.5h2M311 569.5h1M322 569.5h1M336 569.5h1M364 569.5h2M379 569.5h1M385 569.5h1M388 569.5h2M429 569.5h2M443 569.5h3M312 570.5h1M323 570.5h1M337 570.5h1M366 570.5h1M386 570.5h2M389 570.5h3M431 570.5h1M444 570.5h1M446 570.5h2M313 571.5h2M324 571.5h2M338 571.5h2M367 571.5h2M388 571.5h2M391 571.5h2M432 571.5h2M444 571.5h1M448 571.5h3M315 572.5h1M326 572.5h1M340 572.5h1M369 572.5h1M390 572.5h2M393 572.5h2M434 572.5h2M445 572.5h1M451 572.5h2M316 573.5h1M327 573.5h1M341 573.5h1M370 573.5h2M392 573.5h5M436 573.5h1M453 573.5h2M317 574.5h1M328 574.5h1M342 574.5h2M372 574.5h1M394 574.5h1M396 574.5h3M437 574.5h2M455 574.5h3M318 575.5h2M329 575.5h1M344 575.5h1M373 575.5h2M395 575.5h2M398 575.5h2M439 575.5h1M458 575.5h2M320 576.5h1M330 576.5h2M345 576.5h2M375 576.5h1M397 576.5h5M440 576.5h2M460 576.5h2M321 577.5h1M332 577.5h1M347 577.5h1M376 577.5h2M399 577.5h5M442 577.5h2M462 577.5h3M322 578.5h2M333 578.5h1M348 578.5h1M378 578.5h1M401 578.5h5M444 578.5h1M465 578.5h2M324 579.5h1M334 579.5h1M349 579.5h2M379 579.5h2M403 579.5h4M445 579.5h2M467 579.5h2M325 580.5h1M335 580.5h1M351 580.5h1M381 580.5h1M404 580.5h5M447 580.5h2M469 580.5h3M326 581.5h2M336 581.5h2M352 581.5h1M382 581.5h2M406 581.5h5M449 581.5h1M472 581.5h2M328 582.5h1M338 582.5h1M353 582.5h2M384 582.5h1M408 582.5h5M450 582.5h2M474 582.5h2M329 583.5h1M339 583.5h1M355 583.5h1M385 583.5h2M410 583.5h4M452 583.5h2M476 583.5h2M330 584.5h1M340 584.5h1M356 584.5h2M387 584.5h1M412 584.5h4M454 584.5h1M478 584.5h3M331 585.5h2M341 585.5h1M358 585.5h1M388 585.5h2M413 585.5h5M455 585.5h2M481 585.5h2M333 586.5h1M342 586.5h2M359 586.5h1M390 586.5h1M415 586.5h5M457 586.5h2M483 586.5h2M334 587.5h1M344 587.5h1M360 587.5h2M391 587.5h2M417 587.5h4M459 587.5h1M485 587.5h3M335 588.5h2M345 588.5h1M362 588.5h1M393 588.5h1M419 588.5h4M460 588.5h2M488 588.5h2M337 589.5h1M346 589.5h1M363 589.5h1M394 589.5h2M420 589.5h2M423 589.5h2M462 589.5h2M490 589.5h2M338 590.5h1M347 590.5h1M364 590.5h2M396 590.5h1M422 590.5h2M425 590.5h1M464 590.5h1M492 590.5h3M339 591.5h2M348 591.5h2M366 591.5h1M397 591.5h2M424 591.5h4M465 591.5h2M495 591.5h2M341 592.5h1M350 592.5h1M367 592.5h2M399 592.5h1M426 592.5h4M467 592.5h2M497 592.5h2M342 593.5h1M351 593.5h1M369 593.5h1M400 593.5h2M428 593.5h1M430 593.5h2M469 593.5h1M499 593.5h3M343 594.5h2M352 594.5h1M370 594.5h1M402 594.5h1M429 594.5h2M432 594.5h1M470 594.5h2M502 594.5h2M345 595.5h1M353 595.5h2M371 595.5h2M403 595.5h2M431 595.5h4M472 595.5h2M504 595.5h2M346 596.5h1M355 596.5h1M373 596.5h1M405 596.5h1M433 596.5h4M474 596.5h1M506 596.5h2M356 597.5h1M374 597.5h1M406 597.5h2M435 597.5h4M357 598.5h1M375 598.5h2M408 598.5h1M437 598.5h1M439 598.5h1M358 599.5h1M377 599.5h1M409 599.5h2M438 599.5h4M359 600.5h2M411 600.5h1M440 600.5h4M361 601.5h1M412 601.5h2M442 601.5h4M362 602.5h1M414 602.5h1M444 602.5h4M363 603.5h1M446 603.5h1M448 603.5h1M364 604.5h1M449 604.5h2M365 605.5h2M451 605.5h2M367 606.5h1M453 606.5h2M368 607.5h1M455 607.5h1M369 608.5h1M456 608.5h2M370 609.5h1M458 609.5h2M371 610.5h2M460 610.5h2M373 611.5h1M462 611.5h1M374 612.5h1M463 612.5h2M375 613.5h1M465 613.5h2M376 614.5h1M467 614.5h2M377 615.5h2M469 615.5h1M379 616.5h1M470 616.5h2M380 617.5h1M472 617.5h2M381 618.5h1M474 618.5h2M382 619.5h1M476 619.5h2M383 620.5h2M478 620.5h1M385 621.5h1M479 621.5h2M386 622.5h1M481 622.5h2M387 623.5h1M483 623.5h2M388 624.5h1M485 624.5h1M389 625.5h2M486 625.5h2M391 626.5h1M488 626.5h2M392 627.5h1M490 627.5h2M393 628.5h1M492 628.5h1M394 629.5h1M395 630.5h2M397 631.5h1M398 632.5h1"/>
</g>
</svg></body></html>
